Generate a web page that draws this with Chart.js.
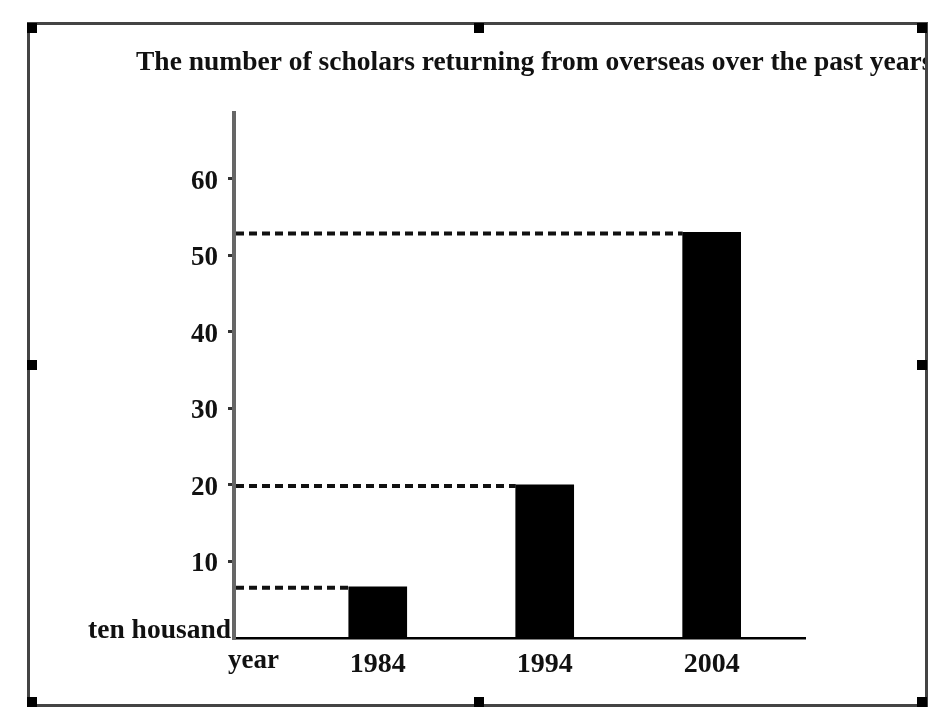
<!DOCTYPE html>
<html>
<head>
<meta charset="utf-8">
<script src="https://cdn.jsdelivr.net/npm/chart.js@4.4.1/dist/chart.umd.min.js"></script>
<style>
  html, body { margin: 0; padding: 0; background: #ffffff; }
  #wrap { width: 950px; height: 713px; position: relative; }
</style>
</head>
<body>
<div id="wrap"><canvas id="c" width="950" height="713"></canvas></div>
<script>
// ---- data ----
const titleText = "The number of scholars returning from overseas over the past years";
const years = [1984, 1994, 2004];
const scholars = [6.7, 20, 53];          // ten thousand
const yTicks = [10, 20, 30, 40, 50, 60];
const yUnitLabel = "ten housand";
const xUnitLabel = "year";

const SERIF = "'Liberation Serif', 'Times New Roman', serif";

const framePlugin = {
  id: 'frame',
  beforeDraw(chart) {
    const ctx = chart.ctx;
    ctx.save();
    ctx.fillStyle = '#ffffff';
    ctx.fillRect(0, 0, chart.width, chart.height);
    ctx.restore();
  },
  afterDraw(chart) {
    const ctx = chart.ctx;
    const ca = chart.chartArea;
    ctx.save();
    // title (clipped by the frame on the right)
    ctx.save();
    ctx.beginPath();
    ctx.rect(0, 0, 926, 713);
    ctx.clip();
    ctx.fillStyle = '#111';
    ctx.font = "bold 27.5px " + SERIF;
    ctx.textAlign = 'left';
    ctx.textBaseline = 'alphabetic';
    ctx.fillText(titleText, 136, 70);
    ctx.restore();

    // unit labels
    ctx.fillStyle = '#111';
    ctx.font = "bold 27.5px " + SERIF;
    ctx.textAlign = 'right';
    ctx.fillText(yUnitLabel, ca.left - 3, ca.bottom);
    ctx.font = "bold 27px " + SERIF;
    ctx.textAlign = 'left';
    ctx.fillText(xUnitLabel, ca.left - 6, ca.bottom + 30);

    // frame
    ctx.strokeStyle = '#444';
    ctx.lineWidth = 3;
    ctx.strokeRect(28.5, 23.5, 898, 682);
    ctx.fillStyle = '#000';
    const hs = [[27,23],[474,23],[917,23],[27,360],[917,360],[27,697],[474,697],[917,697]];
    hs.forEach(([x, y]) => ctx.fillRect(x, y, 10, 10));
    ctx.restore();
  }
};

const dashPlugin = {
  id: 'dashes',
  afterDatasetsDraw(chart) {
    const ctx = chart.ctx;
    const meta = chart.getDatasetMeta(0);
    const left = chart.chartArea.left + 2;
    ctx.save();
    ctx.strokeStyle = '#111';
    ctx.lineWidth = 4;
    ctx.setLineDash([8, 5]);
    meta.data.forEach(el => {
      const p = el.getProps(['x', 'y', 'width'], true);
      ctx.beginPath();
      ctx.moveTo(left, p.y + 1);
      ctx.lineTo(p.x - p.width / 2, p.y + 1);
      ctx.stroke();
    });
    ctx.restore();
  }
};

new Chart(document.getElementById('c'), {
  type: 'bar',
  data: {
    datasets: [{
      data: years.map((yr, i) => ({ x: yr, y: scholars[i] })),
      backgroundColor: '#000000',
      borderWidth: 0,
      barThickness: 58
    }]
  },
  options: {
    responsive: false,
    animation: false,
    devicePixelRatio: 1,
    layout: { padding: { top: 113, right: 145, bottom: 0, left: 0 } },
    plugins: {
      legend: { display: false },
      tooltip: { enabled: false },
      title: { display: false }
    },
    scales: {
      x: {
        type: 'linear',
        offset: false,
        min: 1975.39,
        max: 2009.59,
        grid: { display: false, drawTicks: false, offset: false },
        border: { display: true, color: '#000', width: 2.5 },
        afterBuildTicks(scale) { scale.ticks = years.map(v => ({ value: v })); },
        afterFit(scale) { scale.height = 75; },
        ticks: {
          color: '#111',
          padding: 10,
          autoSkip: false,
          maxRotation: 0,
          font: { family: SERIF, size: 28, weight: 'bold' },
          callback: (v) => String(v)
        }
      },
      y: {
        type: 'linear',
        min: 0,
        max: 68.6,
        afterBuildTicks(scale) { scale.ticks = yTicks.map(v => ({ value: v })); },
        afterFit(scale) { scale.width = 234; },
        grid: {
          drawOnChartArea: false,
          drawTicks: true,
          tickLength: 6,
          color: '#333',
          lineWidth: 3
        },
        border: { display: true, color: '#666', width: 4 },
        ticks: {
          color: '#111',
          padding: 10,
          labelOffset: 3,
          font: { family: SERIF, size: 27, weight: 'bold' },
          callback: (v) => String(v)
        }
      }
    }
  },
  plugins: [framePlugin, dashPlugin]
});
</script>
</body>
</html>
